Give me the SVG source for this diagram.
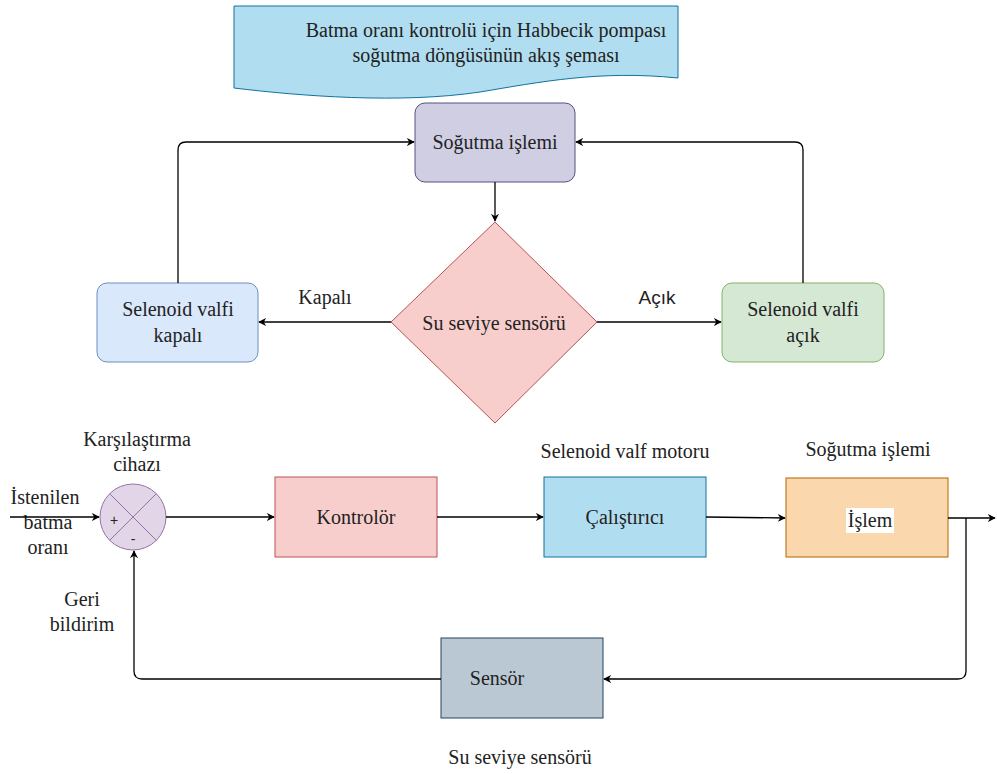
<svg xmlns="http://www.w3.org/2000/svg" width="997" height="774" viewBox="0 0 997 774" font-family="'Liberation Serif', 'Times New Roman', serif">
  <defs>
    <marker id="arrow" viewBox="0 0 10 10" refX="9" refY="5" markerWidth="8" markerHeight="8" markerUnits="userSpaceOnUse" orient="auto">
      <path d="M0,0 L10,5 L0,10 L3,5 Z" fill="#000"/>
    </marker>
    <style>
      text { font-family: 'Liberation Serif', 'Times New Roman', serif; font-size: 20px; fill: #222; text-anchor: middle; }
      text.sans { font-family: 'Liberation Sans', Arial, sans-serif; font-size: 19px; }
      .conn { fill: none; stroke: #000; stroke-width: 1.3; }
      .arr { marker-end: url(#arrow); }
    </style>
  </defs>
  <rect width="997" height="774" fill="#fff"/>

  <!-- Title document shape -->
  <g id="title">
    <path d="M234,6 H678 V78 C600,70 540,82 480,92 C400,104 300,96 234,88 Z" fill="#b1ddf0" stroke="#10739e" stroke-width="1"/>
    <text x="486" y="37">Batma oranı kontrolü için Habbecik pompası</text>
    <text x="486" y="62">soğutma döngüsünün akış şeması</text>
  </g>

  <!-- Flowchart -->
  <g id="cooling-process">
    <rect x="415" y="103" width="160" height="79" rx="10" fill="#d0cee2" stroke="#56517e" stroke-width="1"/>
    <text x="495" y="149">Soğutma işlemi</text>
  </g>
  <g id="level-sensor-decision">
    <path d="M495,222 L597,322 L495,423 L391,322 Z" fill="#f8cecc" stroke="#b85450" stroke-width="1"/>
    <text x="494" y="330">Su seviye sensörü</text>
  </g>
  <g id="valve-closed">
    <rect x="97" y="283" width="161" height="79" rx="10" fill="#dae8fc" stroke="#6c8ebf" stroke-width="1"/>
    <text x="178" y="316">Selenoid valfi</text>
    <text x="178" y="342">kapalı</text>
  </g>
  <g id="valve-open">
    <rect x="722" y="283" width="162" height="79" rx="10" fill="#d5e8d4" stroke="#82b366" stroke-width="1"/>
    <text x="803" y="316">Selenoid valfi</text>
    <text x="803" y="342">açık</text>
  </g>

  <!-- Block diagram -->
  <g id="comparator">
    <circle cx="133" cy="517" r="33" fill="#e1d5e7" stroke="#9673a6" stroke-width="1"/>
    <path d="M109.7,493.7 L156.3,540.3 M156.3,493.7 L109.7,540.3" stroke="#9673a6" stroke-width="1"/>
    <text class="sans" x="114" y="525" style="font-size:14px">+</text>
    <text class="sans" x="133" y="544" style="font-size:14px">-</text>
    <text x="137" y="446">Karşılaştırma</text>
    <text x="137" y="471">cihazı</text>
  </g>
  <g id="setpoint-label">
    <text x="45" y="504">İstenilen</text>
    <text x="48" y="529">batma</text>
    <text x="48" y="554">oranı</text>
  </g>
  <g id="controller">
    <rect x="275" y="477" width="162" height="80" fill="#f8cecc" stroke="#b85450" stroke-width="1"/>
    <text x="356" y="524">Kontrolör</text>
  </g>
  <g id="actuator">
    <rect x="544" y="477" width="162" height="80" fill="#b1ddf0" stroke="#10739e" stroke-width="1"/>
    <text x="625" y="524">Çalıştırıcı</text>
    <text x="625" y="458">Selenoid valf motoru</text>
  </g>
  <g id="process">
    <rect x="786" y="478" width="162" height="79" fill="#fad7ac" stroke="#b46504" stroke-width="1"/>
    <rect x="846" y="508" width="48" height="25" fill="#fff"/>
    <text x="870" y="527">İşlem</text>
    <text x="868" y="456">Soğutma işlemi</text>
  </g>
  <g id="sensor">
    <rect x="441" y="638" width="162" height="80" fill="#bac8d3" stroke="#23445d" stroke-width="1"/>
    <text x="497" y="685">Sensör</text>
    <text x="520" y="764">Su seviye sensörü</text>
  </g>
  <g id="feedback-label">
    <text x="82" y="606">Geri</text>
    <text x="82" y="631">bildirim</text>
  </g>

  <!-- Connectors -->
  <g id="connectors">
    <path class="conn arr" d="M495,182 V221"/>
    <path class="conn arr" d="M178,283 V150 Q178,142 186,142 H414"/>
    <path class="conn arr" d="M803,283 V150 Q803,142 795,142 H576"/>
    <path class="conn arr" d="M391,322 H259"/>
    <path class="conn arr" d="M597,322 H721"/>
    <text x="325" y="304">Kapalı</text>
    <text class="sans" x="657" y="304">Açık</text>

    <path class="conn arr" d="M10,517 H99"/>
    <path class="conn arr" d="M166,517 H274"/>
    <path class="conn arr" d="M437,517 H543"/>
    <path class="conn arr" d="M706,517 L785,518"/>
    <path class="conn arr" d="M948,518 H995"/>
    <path class="conn arr" d="M966,518 V671 Q966,679 958,679 H604"/>
    <path class="conn arr" d="M441,679 H142 Q134,679 134,671 V551"/>
  </g>
</svg>
